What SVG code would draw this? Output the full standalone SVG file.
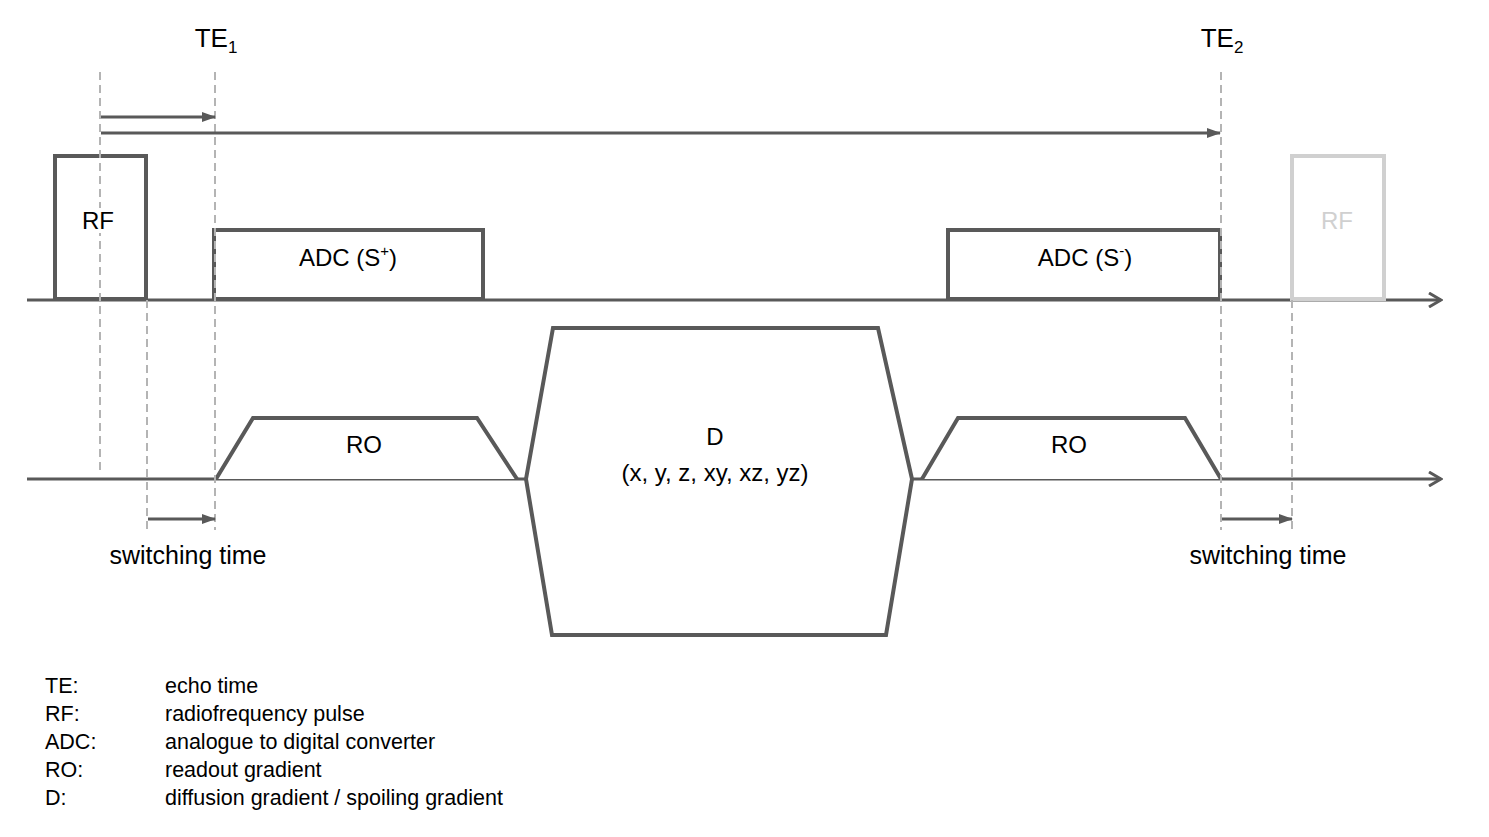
<svg xmlns="http://www.w3.org/2000/svg" width="1489" height="837" viewBox="0 0 1489 837">
<style>
.t{font-family:"Liberation Sans",Arial,sans-serif;font-size:24px;fill:#000;text-anchor:middle}
.te{font-family:"Liberation Sans",Arial,sans-serif;font-size:26px;fill:#000;text-anchor:middle}
.lg{font-family:"Liberation Sans",Arial,sans-serif;font-size:21.5px;fill:#000}
.box{fill:#fff;stroke:#595959;stroke-width:4}
.ghost{fill:#fff;stroke:#d0d0d0;stroke-width:4}
.axis{fill:none;stroke:#595959;stroke-width:3}
.dash{fill:none;stroke:#b4b4b4;stroke-width:2;stroke-dasharray:8,5}
.arr{fill:none;stroke:#595959;stroke-width:3}
.halo{paint-order:stroke;stroke:#fff;stroke-width:8px}
</style>
<defs>
<marker id="tri" markerWidth="14" markerHeight="10" refX="13" refY="5" orient="auto" markerUnits="userSpaceOnUse">
<path d="M0,0 L14,5 L0,10 Z" fill="#595959"/>
</marker>
<marker id="open" markerWidth="16" markerHeight="16" refX="14" refY="8" orient="auto" markerUnits="userSpaceOnUse">
<path d="M2,1 L14,8 L2,15" fill="none" stroke="#595959" stroke-width="3"/>
</marker>
</defs>
<rect width="1489" height="837" fill="#fff"/>

<g id="axes">
<line class="axis" x1="27" y1="300" x2="1441" y2="300" marker-end="url(#open)"/>
<line class="axis" x1="27" y1="479" x2="1441" y2="479" marker-end="url(#open)"/>
</g>

<g id="rf1">
<rect class="box" x="55" y="156" width="91" height="143"/>
</g>
<g id="adc1">
<rect class="box" x="214" y="230" width="269" height="69"/>
<text class="t" x="348" y="266">ADC (S<tspan font-size="15" dy="-10">+</tspan><tspan dy="10">)</tspan></text>
</g>
<g id="adc2">
<rect class="box" x="948" y="230" width="272" height="69"/>
<text class="t" x="1085" y="266">ADC (S<tspan font-size="15" dy="-10">-</tspan><tspan dy="10">)</tspan></text>
</g>
<g id="rf2">
<rect class="ghost" x="1292" y="156" width="92" height="143"/>
<text class="t" x="1337" y="229" style="fill:#d0d0d0">RF</text>
</g>
<g id="ro1">
<path class="box" d="M216,479 L253,418 L477,418 L517,479"/>
<text class="t" x="364" y="453">RO</text>
</g>
<g id="d">
<path class="box" d="M526,479 L553,328 L878,328 L912,479 L886,635 L552,635 Z"/>
<text class="t" x="715" y="445">D</text>
<text class="t" x="715" y="481">(x, y, z, xy, xz, yz)</text>
</g>
<g id="ro2">
<path class="box" d="M922,479 L958,418 L1185,418 L1221,479"/>
<text class="t" x="1069" y="453">RO</text>
</g>

<g id="guides">
<line class="dash" x1="100" y1="72" x2="100" y2="472"/>
<line class="dash" x1="215" y1="72" x2="215" y2="530"/>
<line class="dash" x1="147" y1="300" x2="147" y2="530"/>
<line class="dash" x1="1221" y1="72" x2="1221" y2="530"/>
<line class="dash" x1="1292" y1="300" x2="1292" y2="530"/>
</g>

<g id="rf1-label">
<text class="t halo" x="98" y="229">RF</text>
</g>

<g id="connectors">
<line class="arr" x1="101" y1="117" x2="215" y2="117" marker-end="url(#tri)"/>
<line class="arr" x1="101" y1="133" x2="1220" y2="133" marker-end="url(#tri)"/>
<line class="arr" x1="148" y1="519" x2="215" y2="519" marker-end="url(#tri)"/>
<line class="arr" x1="1222" y1="519" x2="1292" y2="519" marker-end="url(#tri)"/>
</g>

<g id="labels">
<text class="te" x="216" y="47">TE<tspan font-size="17" dy="6">1</tspan></text>
<text class="te" x="1222" y="47">TE<tspan font-size="17" dy="6">2</tspan></text>
<text class="t" x="188" y="564" style="font-size:25px">switching time</text>
<text class="t" x="1268" y="564" style="font-size:25px">switching time</text>
</g>

<g id="legend">
<text class="lg" x="45" y="693">TE:</text><text class="lg" x="165" y="693">echo time</text>
<text class="lg" x="45" y="721">RF:</text><text class="lg" x="165" y="721">radiofrequency pulse</text>
<text class="lg" x="45" y="749">ADC:</text><text class="lg" x="165" y="749">analogue to digital converter</text>
<text class="lg" x="45" y="777">RO:</text><text class="lg" x="165" y="777">readout gradient</text>
<text class="lg" x="45" y="805">D:</text><text class="lg" x="165" y="805">diffusion gradient / spoiling gradient</text>
</g>
</svg>
